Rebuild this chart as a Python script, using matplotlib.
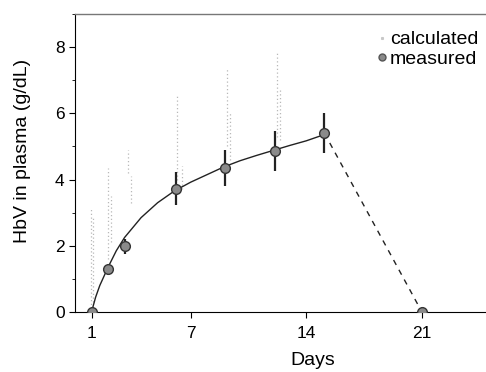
import matplotlib
matplotlib.use("Agg")
import matplotlib.pyplot as plt
from matplotlib.ticker import MultipleLocator

plt.rcParams['font.family'] = ['Liberation Sans', 'DejaVu Sans']

# measured values (days, g/dL) with error bars
days_meas = [1, 2, 3, 6.1, 9.05, 12.1, 15.1, 21]
hbv_meas = [0, 1.3, 1.98, 3.72, 4.35, 4.87, 5.4, 0]
hbv_err = [0, 0.1, 0.22, 0.5, 0.55, 0.6, 0.6, 0]

# fitted curve
curve_days = [1, 1.25, 1.5, 2, 2.5, 3, 4, 5, 6, 7, 8, 9, 10, 11, 12, 13, 14, 15.1]
curve_hbv = [0, 0.45, 0.8, 1.35, 1.85, 2.25, 2.85, 3.3, 3.65, 3.92, 4.15,
             4.38, 4.57, 4.73, 4.88, 5.03, 5.17, 5.36]

# washout (dashed)
wash_days = [15.1, 21]
wash_hbv = [5.4, 0]

# calculated values: faint vertical columns (day, low, high)
calc_days = [0.95, 1.1, 2.0, 2.2, 3.2, 3.4, 6.2, 6.5, 9.2, 9.4, 12.2, 12.4]
calc_low = [0.0, 0.3, 1.6, 2.1, 4.2, 3.3, 4.0, 3.7, 5.0, 4.6, 5.3, 5.2]
calc_high = [3.15, 2.9, 4.35, 3.5, 4.9, 4.1, 6.55, 4.4, 7.35, 6.0, 7.85, 6.7]

fig = plt.figure(figsize=(4.86, 3.72), dpi=100)
ax = fig.add_axes([75/486, 60/372, 413/486, 298/372])

for d, lo, hi in zip(calc_days, calc_low, calc_high):
    ax.plot([d, d], [lo, hi], color='#b8b8b8', lw=0.9, ls=(0, (1, 2)), zorder=1)

ax.plot(curve_days, curve_hbv, color='#222222', lw=1.0, zorder=2)
ax.plot(wash_days, wash_hbv, color='#222222', lw=1.0, ls=(0, (4, 4)), zorder=2)
ax.errorbar(days_meas, hbv_meas, yerr=hbv_err, fmt='none', ecolor='#222222',
            elinewidth=1.6, capsize=0, zorder=3)
ax.plot(days_meas, hbv_meas, 'o', ms=7, mfc='#8a8a8a', mec='#333333', mew=1.0,
        zorder=4)

# legend entries
ax.plot([], [], ls='none', marker='s', ms=1.2, color='#c8c8c8', label='calculated')
ax.plot([], [], ls='none', marker='o', ms=5, mfc='#8a8a8a', mec='#555555',
        label='measured')
handles, labels = ax.get_legend_handles_labels()
ax.legend(handles[-2:], labels[-2:], loc='upper right', bbox_to_anchor=(0.995, 0.97),
          frameon=False, fontsize=14, handletextpad=0.05, handlelength=0.7,
          labelspacing=0.1, borderaxespad=0)

ax.set_xlim(0, 25)
ax.set_ylim(0, 9)
ax.set_xticks([1, 7, 14, 21])
ax.yaxis.set_major_locator(MultipleLocator(2))
ax.yaxis.set_minor_locator(MultipleLocator(1))
ax.tick_params(axis='both', labelsize=12.5, length=4, width=0.8, direction='out')
ax.tick_params(axis='x', pad=6)
ax.tick_params(axis='y', which='minor', length=2.5)
ax.spines['right'].set_visible(False)
ax.spines['top'].set_color('#777777')
ax.spines['top'].set_linewidth(1.0)
ax.set_xlabel('Days', fontsize=14)
ax.set_ylabel('HbV in plasma (g/dL)', fontsize=14)
ax.xaxis.set_label_coords(0.576, -0.135)
ax.yaxis.set_label_coords(-0.107, 0.54)

fig.savefig('out.png', dpi=100)
